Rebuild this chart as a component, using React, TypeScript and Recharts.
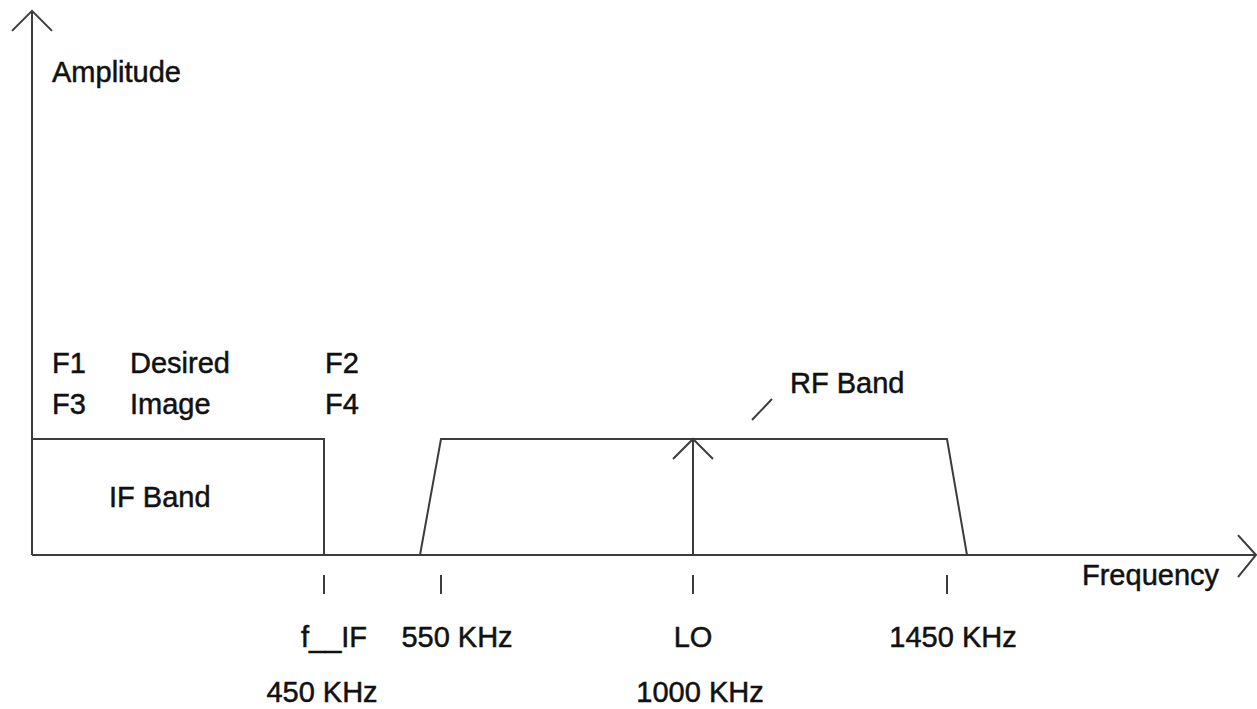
import React from 'react';
import { ComposedChart, Line, XAxis, YAxis, ReferenceDot } from 'recharts';

// schematic diagram, not to scale: pos = distance from the origin, amp = band height
const ifBand = [
  { pos: 0, amp: 1 },
  { pos: 292, amp: 1 },
  { pos: 292, amp: 0 },
];

const rfBand = [
  { pos: 388, amp: 0 },
  { pos: 409, amp: 1 },
  { pos: 915, amp: 1 },
  { pos: 935, amp: 0 },
];

const loPos = 661;
const loAmp = 1;

const rfLeader = [
  { pos: 720, amp: 1.164 },
  { pos: 740, amp: 1.345 },
];

const tickPos = [292, 409, 661, 915];
const tickTop = ['f__IF', '550 KHz', 'LO', '1450 KHz'];
const tickBottom = ['450 KHz', '', '1000 KHz', ''];

const X_DOMAIN: [number, number] = [-32, 1225];
const Y_DOMAIN: [number, number] = [-0.2155, 4.741];
const X_END = 1224;
const Y_END = 4.69;

const INK = '#3c3c3c';
const TEXT = '#111';
const FONT = '"Liberation Sans", Arial, sans-serif';
const FS = 29;

// label placement (left/baseline, in chart units)
const notes = [
  { text: 'Amplitude', pos: 20, amp: 4.078 },
  { text: 'F1', pos: 20, amp: 1.569 },
  { text: 'Desired', pos: 98, amp: 1.569 },
  { text: 'F2', pos: 293, amp: 1.569 },
  { text: 'F3', pos: 20, amp: 1.216 },
  { text: 'Image', pos: 98, amp: 1.216 },
  { text: 'F4', pos: 293, amp: 1.216 },
  { text: 'IF Band', pos: 77, amp: 0.414 },
  { text: 'RF Band', pos: 758, amp: 1.397 },
  { text: 'Frequency', pos: 1050, amp: -0.259 },
];

const TOP_DX = [10, 16, 0, 6];
const BOTTOM_DX = [-2, 0, 7, 0];

// arrow heads
const HEAD_X = 20;
const HEAD_Y = 0.172;

const xAxisLine = [
  { pos: 0, amp: 0 },
  { pos: X_END, amp: 0 },
];
const xArrow = [
  { pos: X_END - 18, amp: 0.172 },
  { pos: X_END, amp: 0 },
  { pos: X_END - 18, amp: -0.19 },
];
const yAxisLine = [
  { pos: 0, amp: 0 },
  { pos: 0, amp: Y_END },
];
const yArrow = [
  { pos: -HEAD_X, amp: Y_END - HEAD_Y },
  { pos: 0, amp: Y_END },
  { pos: HEAD_X, amp: Y_END - HEAD_Y },
];
const loLine = [
  { pos: loPos, amp: 0 },
  { pos: loPos, amp: loAmp },
];
const loArrow = [
  { pos: loPos - HEAD_X, amp: loAmp - HEAD_Y },
  { pos: loPos, amp: loAmp },
  { pos: loPos + HEAD_X, amp: loAmp - HEAD_Y },
];

const textStyle = {
  fontFamily: FONT,
  fontSize: FS,
  fill: TEXT,
  stroke: TEXT,
  strokeWidth: 0.5,
};

const FreqTick = (props: any) => {
  const { x, y, payload } = props;
  const i = tickPos.indexOf(payload.value);
  if (i < 0) return null;
  return (
    <g>
      <line x1={x} x2={x} y1={y - 5} y2={y + 14} stroke={INK} strokeWidth={2} />
      <text x={x + TOP_DX[i]} y={y + 67} textAnchor="middle" {...textStyle}>
        {tickTop[i]}
      </text>
      {tickBottom[i] && (
        <text x={x + BOTTOM_DX[i]} y={y + 122} textAnchor="middle" {...textStyle}>
          {tickBottom[i]}
        </text>
      )}
    </g>
  );
};

const seg = (key: string, data: { pos: number; amp: number }[]) => (
  <Line
    key={key}
    data={data}
    dataKey="amp"
    type="linear"
    stroke={INK}
    strokeWidth={2}
    dot={false}
    activeDot={false}
    isAnimationActive={false}
    strokeLinejoin="miter"
  />
);

export default function App() {
  return (
    <div style={{ position: 'absolute', left: 0, top: 0, width: 1257, height: 709, background: '#fff' }}>
      <ComposedChart width={1257} height={709} margin={{ top: 5, right: 0, bottom: 0, left: 0 }}>
        <XAxis
          type="number"
          dataKey="pos"
          domain={X_DOMAIN}
          allowDataOverflow
          ticks={tickPos}
          interval={0}
          axisLine={false}
          tickLine={false}
          tickSize={0}
          tickMargin={0}
          height={129}
          tick={<FreqTick />}
        />
        <YAxis type="number" hide domain={Y_DOMAIN} allowDataOverflow />
        {seg('xaxis', xAxisLine)}
        {seg('xarrow', xArrow)}
        {seg('yaxis', yAxisLine)}
        {seg('yarrow', yArrow)}
        {seg('if', ifBand)}
        {seg('rf', rfBand)}
        {seg('lo', loLine)}
        {seg('loarrow', loArrow)}
        {seg('leader', rfLeader)}
        {notes.map((n) => (
          <ReferenceDot
            key={n.text}
            x={n.pos}
            y={n.amp}
            r={0}
            ifOverflow="visible"
            shape={(p: any) => (
              <text x={p.cx} y={p.cy} {...textStyle}>
                {n.text}
              </text>
            )}
          />
        ))}
      </ComposedChart>
    </div>
  );
}
